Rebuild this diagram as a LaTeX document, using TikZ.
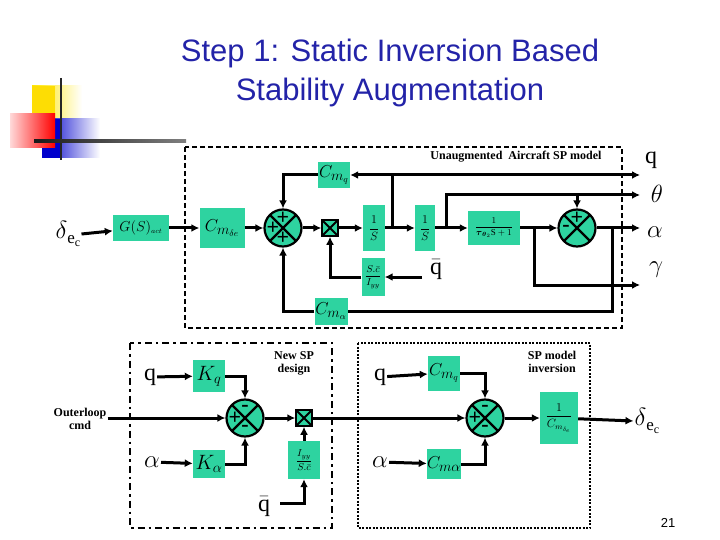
\documentclass[tikz,border=0pt]{standalone}
\usepackage{fontspec}
\setmainfont{Liberation Serif}
\newfontfamily\titlefont{Liberation Sans}
\usepackage{amsmath}
\usetikzlibrary{arrows.meta,calc}
\definecolor{blk}{HTML}{2ED3A0}
\definecolor{ttl}{HTML}{2323A8}
\begin{document}
\begin{tikzpicture}[x=1pt,y=-1pt,
  box/.style={draw=none,fill=blk,inner sep=0pt,font=\fontsize{19}{19}\selectfont},
  sumj/.style={circle,draw,fill=blk,minimum size=37pt,inner sep=0pt,line width=2.2pt,
    path picture={\draw[line width=2.2pt] (path picture bounding box.north west)--(path picture bounding box.south east)
      (path picture bounding box.north east)--(path picture bounding box.south west);}},
  mult/.style={draw,fill=blk,minimum size=16pt,inner sep=0pt,line width=1.5pt,
    path picture={\draw[line width=2pt] (path picture bounding box.north west)--(path picture bounding box.south east)
      (path picture bounding box.north east)--(path picture bounding box.south west);}},
  sgn/.style={font=\bfseries\fontsize{22}{22}\selectfont,inner sep=0pt},
  sig/.style={line width=3pt,-{Latex[length=8pt,width=8pt]}},
  ln/.style={line width=3pt},
  lbl/.style={font=\fontsize{24}{24}\selectfont,inner sep=1pt},
  note/.style={font=\fontsize{12}{13}\selectfont\bfseries,align=center,inner sep=1pt}]
\useasboundingbox (0,0) rectangle (720,540);
% decoration
\shade[left color=yellow!80!orange,right color=white] (32,86) rectangle (82,120);
\fill[yellow!80!orange] (32,86) rectangle (55,120);
\shade[left color=blue!80!black,right color=white] (42,119) rectangle (100,158);
\fill[blue!80!black] (42,119) rectangle (60,158);
\shade[left color=red!15,right color=red] (10,114) rectangle (55,148);
\draw[line width=2pt,black!85] (61,78) -- (61,160);
\shade[left color=black!90,right color=black!50] (34,140) rectangle (186,143);
% title
\node[font=\titlefont\fontsize{31}{39}\selectfont,text=ttl,align=center] (title) at (390,73)
  {Step 1: Static Inversion Based\\Stability Augmentation};
% ---------- top diagram
\draw[line width=2pt,dash pattern=on 5pt off 3pt] (185,147) rectangle (622,328);
\node[note] (tnote) at (516,157) {Unaugmented\ \ Aircraft SP model};
\node[lbl] (dec) at (68,234) {$\delta$\raisebox{-5pt}{\fontsize{17}{17}\selectfont e\raisebox{-3pt}{\fontsize{12}{12}\selectfont c}}};
\node[box,minimum width=56pt,minimum height=25pt,font=\fontsize{15}{15}\selectfont] (G) at (141,228) {$G(S)_{\scriptscriptstyle act}$};
\node[box,minimum width=45pt,minimum height=40pt] (Cmde) at (222,228) {$C_{m_{\delta e}}$};
\node[sumj] (s1) at (283,228) {};
\node[mult] (m1) at (330,228) {};
\node[box,minimum width=22pt,minimum height=45pt,font=\large] (i1) at (374,228) {$\dfrac{1}{S}$};
\node[box,minimum width=20pt,minimum height=45pt,font=\large] (i2) at (425,228) {$\dfrac{1}{S}$};
\node[box,minimum width=52pt,minimum height=34pt,font=\small] (tau) at (494,228) {$\dfrac{1}{\boldsymbol{\tau}_{\boldsymbol{\theta}_2}\mathrm{S}+1}$};
\node[sumj] (s2) at (577,228) {};
\node[box,minimum width=32pt,minimum height=26pt] (Cmq) at (334,175) {$C_{m_q}$};
\node[box,minimum width=23pt,minimum height=38pt,font=\normalsize] (SI) at (373,277) {$\dfrac{S.\bar c}{I_{yy}}$};
\node[box,minimum width=33pt,minimum height=27pt] (Cma) at (331,311) {$C_{m_\alpha}$};
\node[lbl] (qb1) at (436,270) {$\bar{\mathrm{q}}$};
\node[lbl] (oq) at (651,160) {q};
\node[lbl] (oth) at (657,194) {$\theta$};
\node[lbl] (oal) at (655,232) {$\alpha$};
\node[lbl] (oga) at (656,270) {$\gamma$};
\coordinate (eq) at (640,175);
\coordinate (eth) at (640,195);
\coordinate (eal) at (640,228);
\coordinate (ega) at (640,285);
\coordinate (bq) at (392,228);
\coordinate (bth) at (446,228);
\coordinate (bga) at (534,228);
\coordinate (ba) at (612,228);
\coordinate (qs) at (422,277);
\node[sgn] at ($(s1)+(0,-10)$) {+};
\node[sgn] at ($(s1)+(-10,0)$) {+};
\node[sgn] at ($(s1)+(0,10)$) {+};
\node[sgn] at ($(s2)+(0,-10)$) {+};
\node[sgn] at ($(s2)+(-11,0)$) {-};
\draw[sig] (dec.east) -- (G);
\draw[sig] (G) -- (Cmde);
\draw[sig] (Cmde) -- (s1);
\draw[sig] (s1) -- (m1);
\draw[sig] (m1) -- (i1);
\draw[sig] (i1) -- (i2);
\draw[sig] (i2) -- (tau);
\draw[sig] (tau) -- (s2);
\draw[sig] (s2) -- (eal);
\draw[ln] (bq) -- (bq |- Cmq);
\draw[sig] (bq |- Cmq) -- (eq);
\draw[sig] (bq |- Cmq) -- (Cmq);
\draw[sig] (Cmq) -| (s1.north);
\draw[sig] (bth) |- (eth);
\draw[sig] (s2 |- eth) -- (s2.north);
\draw[sig] (bga) |- (ega);
\draw[ln] (ba) |- (Cma);
\draw[sig] (Cma) -| (s1.south);
\draw[sig] (qs) -- (SI);
\draw[sig] (SI) -| (m1.south);
% ---------- bottom left
\draw[line width=2.5pt,dash pattern=on 7pt off 4pt on 2.5pt off 4pt] (130,343) rectangle (332,528);
\node[note] (nsp) at (294,363) {New SP\\design};
\node[note] (ocmd) at (80,419) {Outerloop\\cmd};
\node[lbl] (q2) at (150,377) {q};
\node[lbl] (a2) at (152,462) {$\alpha$};
\node[box,minimum width=32pt,minimum height=32pt,font=\fontsize{22}{22}\selectfont] (Kq) at (209,376) {$K_q$};
\node[box,minimum width=32pt,minimum height=28pt,font=\fontsize{22}{22}\selectfont] (Ka) at (209,464) {$K_\alpha$};
\node[sumj] (s3) at (245,418) {};
\node[mult] (m2) at (304,418) {};
\node[box,minimum width=32pt,minimum height=38pt,font=\normalsize] (IS) at (304,460) {$\dfrac{I_{yy}}{S.\bar c}$};
\node[lbl] (qb2) at (264,507) {$\bar{\mathrm{q}}$};
\coordinate (qbs) at (280,503);
\node[sgn] at ($(s3)+(0,-10)$) {-};
\node[sgn] at ($(s3)+(-10,0)$) {+};
\node[sgn] at ($(s3)+(0,10)$) {-};
\draw[sig] (q2) -- (Kq);
\draw[sig] (a2) -- (Ka);
\draw[sig] (Kq) -| (s3.north);
\draw[sig] (Ka) -| (s3.south);
\draw[sig] (ocmd.east |- s3) -- (s3);
\draw[sig] (s3) -- (m2);
\draw[sig] (qbs) -| (IS.south);
\draw[sig] (IS) -- (m2);
% ---------- bottom right
\draw[line width=2.5pt,dash pattern=on 2pt off 1.5pt] (358,343) rectangle (590,528);
\node[note] (spm) at (552,362) {SP model\\inversion};
\node[lbl] (q3) at (380,377) {q};
\node[lbl] (a3) at (380,462) {$\alpha$};
\node[box,minimum width=32pt,minimum height=35pt] (Cmq2) at (444,373) {$C_{m_q}$};
\node[box,minimum width=32pt,minimum height=30pt] (Cma2) at (444,464) {$C_{m\alpha}$};
\node[sumj] (s4) at (485,418) {};
\node[box,minimum width=38pt,minimum height=52pt,font=\large] (inv) at (559,418) {$\dfrac{1}{C_{m_{\delta_e}}}$};
\node[lbl] (dec2) at (647,421) {$\delta$\raisebox{-5pt}{\fontsize{17}{17}\selectfont e\raisebox{-3pt}{\fontsize{12}{12}\selectfont c}}};
\node[sgn] at ($(s4)+(0,-10)$) {-};
\node[sgn] at ($(s4)+(-10,0)$) {+};
\node[sgn] at ($(s4)+(0,10)$) {-};
\draw[sig] (q3) -- (Cmq2);
\draw[sig] (a3) -- (Cma2);
\draw[sig] (Cmq2) -| (s4.north);
\draw[sig] (Cma2) -| (s4.south);
\draw[sig] (m2) -- (s4);
\draw[sig] (s4) -- (inv);
\draw[sig] (inv) -- (dec2.west);
\node[font=\titlefont\fontsize{13}{13}\selectfont] (pg) at (668,523) {21};
\end{tikzpicture}
\end{document}
